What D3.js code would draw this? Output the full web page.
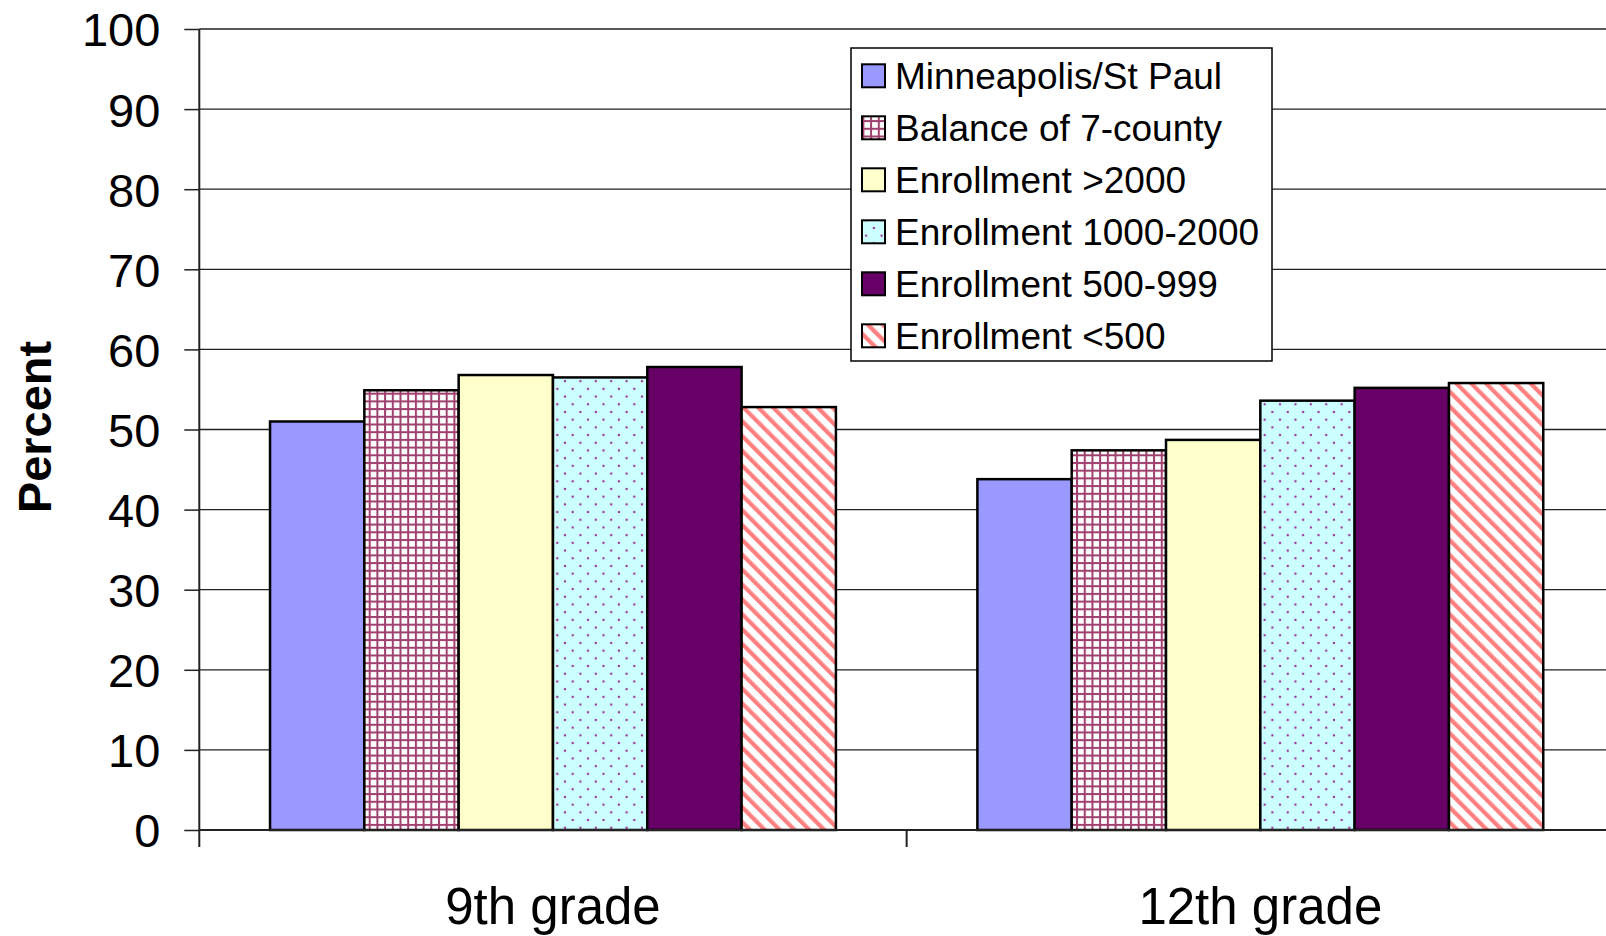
<!DOCTYPE html>
<html>
<head>
<meta charset="utf-8">
<script src="https://cdn.jsdelivr.net/npm/d3@7"></script>
<style>
html,body{margin:0;padding:0;background:#fff;}
svg{display:block;font-family:"Liberation Sans",Arial,sans-serif;}
</style>
</head>
<body>
<svg id="chart" width="1606" height="936"></svg>
<script>
const categories = ["9th grade", "12th grade"];
const seriesNames = ["Minneapolis/St Paul", "Balance of 7-county", "Enrollment >2000", "Enrollment 1000-2000", "Enrollment 500-999", "Enrollment <500"];
const grade9 = [51.0, 54.9, 56.8, 56.5, 57.8, 52.8];
const grade12 = [43.8, 47.4, 48.7, 53.6, 55.2, 55.8];
const yTicks = [0, 10, 20, 30, 40, 50, 60, 70, 80, 90, 100];
const fills = ["#9999FF", "url(#pGrid)", "#FFFFCC", "url(#pDots)", "#660066", "url(#pStripe)"];

const values = [grade9, grade12];
const svg = d3.select("#chart");
const defs = svg.append("defs");

// grid pattern
const pg = defs.append("pattern").attr("id","pGrid").attr("patternUnits","userSpaceOnUse")
  .attr("width",7.7).attr("height",7.7);
pg.append("rect").attr("width",7.7).attr("height",7.7).attr("fill","#fff");
pg.append("rect").attr("x",0).attr("y",0).attr("width",2).attr("height",7.7).attr("fill","#A0406E");
pg.append("rect").attr("x",0).attr("y",0).attr("width",7.7).attr("height",2).attr("fill","#A0406E");

// dots pattern
const pd = defs.append("pattern").attr("id","pDots").attr("patternUnits","userSpaceOnUse")
  .attr("width",15.4).attr("height",15.4);
pd.append("rect").attr("width",15.4).attr("height",15.4).attr("fill","#CCFFFF");
pd.append("circle").attr("cx",3.8).attr("cy",3.8).attr("r",1.2).attr("fill","#993399");
pd.append("circle").attr("cx",11.5).attr("cy",11.5).attr("r",1.2).attr("fill","#993399");

// stripe pattern
const ps = defs.append("pattern").attr("id","pStripe").attr("patternUnits","userSpaceOnUse")
  .attr("width",10.5).attr("height",10.5).attr("patternTransform","rotate(-45)");
ps.append("rect").attr("width",10.5).attr("height",10.5).attr("fill","#fff");
ps.append("rect").attr("x",0).attr("y",0).attr("width",4.2).attr("height",10.5).attr("fill","#FF8080");

const x0 = d3.scaleBand().domain(categories).range([199.3, 1614]).paddingInner(0).paddingOuter(0);
const bw = x0.bandwidth();
const x1 = d3.scaleBand().domain(seriesNames).range([bw*0.1, bw*0.9]).padding(0);
const y = d3.scaleLinear().domain([0,100]).range([830, 29]);

// gridlines
svg.append("g").selectAll("line").data(yTicks.filter(d=>d>0)).join("line")
  .attr("x1", 199.3).attr("x2", 1614)
  .attr("y1", d=>y(d)).attr("y2", d=>y(d))
  .attr("stroke","#222").attr("stroke-width",1.3);

// y axis
const yAxis = d3.axisLeft(y).tickValues(yTicks).tickSize(15).tickPadding(24).tickFormat(d3.format("d"));
const gy = svg.append("g").attr("transform","translate(199.3,0)").call(yAxis);
gy.select(".domain").remove();
gy.selectAll(".tick line").attr("stroke","#222").attr("stroke-width",1.5);
gy.selectAll(".tick text").attr("font-size",47).attr("fill","#000").attr("dy","0.36em");
svg.append("line").attr("x1",199.3).attr("x2",199.3).attr("y1",y(100)).attr("y2",847)
  .attr("stroke","#222").attr("stroke-width",2);

// bars
const groups = svg.append("g").selectAll("g").data(categories).join("g")
  .attr("transform", d=>`translate(${x0(d)},0)`);
groups.selectAll("rect").data((d,i)=>values[i].map((v,j)=>({v, s:seriesNames[j], j})))
  .join("rect")
  .attr("x", d=>x1(d.s)).attr("width", x1.bandwidth())
  .attr("y", d=>y(d.v)).attr("height", d=>y(0)-y(d.v))
  .attr("fill", d=>fills[d.j]).attr("stroke","#000").attr("stroke-width",2.5);

// x axis
const xAxis = d3.axisBottom(x0).tickSize(0).tickPadding(0);
const gx = svg.append("g").attr("transform","translate(0,830)").call(xAxis);
gx.select(".domain").remove();
gx.selectAll(".tick text").attr("font-size",51).attr("fill","#000").attr("dy","1.85em");
svg.append("line").attr("x1",199.3).attr("x2",1614).attr("y1",830).attr("y2",830)
  .attr("stroke","#222").attr("stroke-width",2);
// category separator ticks
svg.append("g").selectAll("line").data(categories.slice(1)).join("line")
  .attr("x1", d=>x0(d)).attr("x2", d=>x0(d)).attr("y1",830).attr("y2",847)
  .attr("stroke","#222").attr("stroke-width",2);

// y title
svg.append("text").attr("transform","translate(51,427) rotate(-90)")
  .attr("text-anchor","middle").attr("font-size",47).attr("font-weight","bold").text("Percent");

// legend
const lg = svg.append("g");
lg.append("rect").attr("x",851).attr("y",48).attr("width",421).attr("height",313)
  .attr("fill","#fff").attr("stroke","#000").attr("stroke-width",1.5);
const items = lg.selectAll("g.item").data(seriesNames).join("g").attr("class","item")
  .attr("transform",(d,i)=>`translate(0,${75.8 + i*52})`);
items.append("rect").attr("x",862).attr("y",-11.5).attr("width",23).attr("height",23)
  .attr("fill",(d,i)=>fills[i]).attr("stroke","#000").attr("stroke-width",2);
items.append("text").attr("x",895).attr("y",13).attr("font-size",37).attr("fill","#000").text(d=>d);
</script>
</body>
</html>
